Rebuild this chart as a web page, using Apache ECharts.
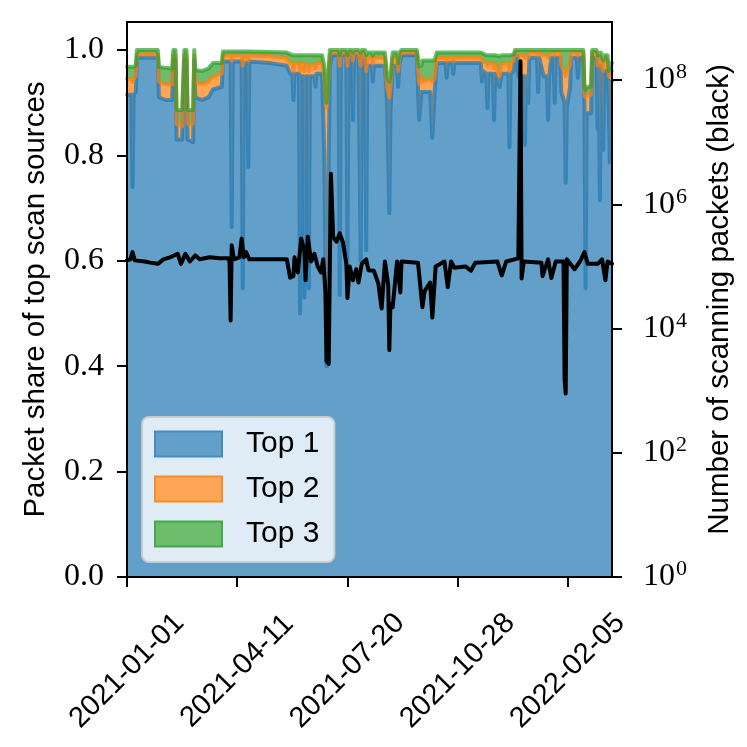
<!DOCTYPE html>
<html>
<head>
<meta charset="utf-8">
<script src="https://cdn.jsdelivr.net/npm/echarts@6/dist/echarts.min.js"></script>
<style>html,body{margin:0;padding:0;background:#fff}#c{width:747px;height:747px}</style>
</head>
<body>
<div id="c"></div>
<script>
// Day index counted from 2021-01-01
const xTickDays = [0, 100, 200, 300, 400];
const xTickLabels = ['2021-01-01', '2021-04-11', '2021-07-20', '2021-10-28', '2022-02-05'];
const leftTicks = [0, 0.2, 0.4, 0.6, 0.8, 1.0];
const rightTickExps = [0, 2, 4, 6, 8];
const seriesNames = ['Top 1', 'Top 2', 'Top 3'];

// Packet share days and cumulative shares (top 1, top 2 combined, top 3 combined)
const shareDays = [0,4,5,6,8,9,28,29,35,41,
 42,44,45,50,52,54,55,60,61,62,
 68,74,78,86,87,94,95,96,104,105,
 106,109,110,111,130,145,148,150,151,152,
 156,157,158,160,161,162,164,165,166,170,
 171,172,177,179,181,182,184,186,192,193,
 194,199,200,201,204,205,206,210,212,213,
 216,217,218,222,223,224,234,236,238,239,
 241,245,246,247,249,263,265,267,268,275,
 277,279,281,289,290,291,295,296,297,321,
 322,323,326,327,328,332,333,334,338,340,
 346,347,348,351,352,354,355,360,361,362,
 364,365,372,373,374,378,381,382,383,385,
 387,388,389,393,394,397,398,399,402,403,
 408,409,410,414,415,416,417,421,422,426,
 427,428,429,430,432,433,436,437,438,439,
 440];
const shareTop1 = [.915,.915,.74,.915,.92,.985,.985,.91,.905,.905,
 .98,.98,.83,.83,.98,.98,.83,.825,.98,.91,
 .905,.91,.925,.93,.978,.978,.664,.978,.978,.548,
 .975,.975,.778,.978,.975,.97,.955,.955,.905,.955,
 .955,.50,.95,.95,.53,.95,.95,.548,.95,.95,
 .93,.955,.955,.80,.40,.60,.97,.99,.99,.535,
 .99,.99,.60,.99,.99,.867,.99,.99,.60,.99,
 .98,.62,.97,.97,.94,.97,.97,.90,.69,.88,
 .97,.97,.93,.97,.99,.99,.867,.92,.92,.92,
 .833,.92,.975,.975,.947,.975,.975,.955,.975,.975,
 .94,.96,.955,.89,.955,.955,.867,.955,.93,.955,
 .955,.816,.955,.96,.99,.99,.95,.95,.82,.95,
 .90,.985,.985,.92,.985,.95,.95,.867,.95,.985,
 .985,.90,.985,.985,.92,.90,.748,.89,.93,.985,
 .985,.947,.985,.985,.90,.548,.88,.88,.985,.985,
 .85,.97,.715,.97,.81,.96,.96,.90,.787,.94,
 .94];
const shareTop2 = [.945,.945,.94,.945,.95,.992,.992,.94,.935,.935,
 .99,.99,.86,.855,.99,.99,.86,.86,.99,.94,
 .935,.94,.95,.955,.99,.99,.98,.99,.99,.97,
 .99,.99,.98,.99,.988,.985,.975,.975,.96,.975,
 .975,.96,.975,.975,.96,.972,.972,.96,.972,.972,
 .965,.975,.975,.95,.89,.92,.99,.995,.995,.97,
 .995,.995,.97,.995,.995,.98,.995,.995,.97,.995,
 .99,.96,.985,.985,.975,.985,.985,.93,.91,.93,
 .985,.985,.96,.985,.995,.995,.935,.95,.94,.945,
 .94,.945,.985,.985,.98,.985,.985,.98,.985,.985,
 .98,.98,.975,.97,.975,.975,.965,.975,.95,.975,
 .975,.96,.975,.98,.995,.995,.99,.99,.985,.99,
 .985,.995,.995,.99,.995,.99,.99,.985,.99,.995,
 .995,.99,.995,.995,.97,.96,.95,.96,.97,.995,
 .995,.99,.995,.995,.915,.91,.915,.915,.995,.995,
 .97,.985,.97,.985,.96,.98,.98,.95,.95,.96,
 .96];
const shareTop3 = [.968,.968,.966,.968,.97,1,1,.968,.966,.965,
 1,1,.886,.886,1,1,.886,.886,1,.962,
 .96,.965,.975,.975,.997,.997,.995,.997,.997,.995,
 .997,.997,.995,.997,.996,.995,.992,.99,.99,.99,
 .99,.99,.99,.99,.99,.99,.99,.99,.99,.99,
 .99,.99,.99,.97,.90,.93,1,1,1,.99,
 1,1,.99,1,1,.995,1,1,.995,1,
 1,.99,.995,.995,.99,.995,.995,.95,.94,.95,
 .995,.995,.975,.995,1,1,.968,.97,.98,.98,
 .98,.98,.995,.995,.995,.995,.995,.995,.995,.995,
 .995,.993,.99,.99,.99,.99,.99,.99,.988,.99,
 .99,.99,.99,.992,1,1,1,1,1,1,
 1,1,1,1,1,1,1,1,1,1,
 1,1,1,1,1,1,1,1,1,1,
 1,1,1,1,.93,.924,.93,.93,1,1,
 .99,.995,.99,.995,.98,.99,.99,.96,.965,.975,
 .975];

// Number of scanning packets (black line)
const blackDays = [0,3,5,7,16,21,28,33,39,46,
 49,53,57,62,66,75,84,92,93,94,
 95,97,102,104,106,108,111,121,145,148,
 151,152,155,158,161,162,164,167,170,173,
 176,178,180,181,183,185,187,190,193,196,
 199,200,202,205,208,210,213,217,219,224,
 228,231,234,237,238,239,241,245,248,249,
 264,268,270,275,277,280,288,291,294,297,
 307,312,316,336,340,344,355,356,357,358,
 360,376,377,382,385,389,396,397,398,399,
 400,406,411,415,418,427,431,434,436,440];
const blackCounts = [1.25e5,1.3e5,1.7e5,1.25e5,1.2e5,1.15e5,1.1e5,1.3e5,1.4e5,1.6e5,
 1.1e5,1.6e5,1.2e5,1.5e5,1.3e5,1.4e5,1.35e5,1.35e5,1.2e5,1.35e4,
 2.2e5,1.3e5,1.4e5,2.8e5,1.4e5,1.7e5,1.3e5,1.3e5,1.3e5,6.6e4,
 7e4,1.4e5,8e4,2.8e5,1.8e5,6e4,3.0e5,1.2e5,1.6e5,1.0e5,
 8e4,1.3e5,4e4,3e3,2.7e3,3.1e6,3e5,2.5e5,3.4e5,2.4e5,
 1.1e5,3.1e4,1e5,6e4,9e4,5.5e4,1.1e5,1.3e5,8.7e4,8.5e4,
 5.3e4,2.1e4,1.2e5,5e4,4.5e3,2.5e4,2.2e4,1.2e5,3.8e4,1.2e5,
 1.15e5,2.2e4,4e4,5.5e4,1.5e4,1e5,1.2e5,4.6e4,1.2e5,9.5e4,
 1.0e5,8.5e4,1.15e5,1.2e5,7.2e4,1.2e5,1.35e5,1.3e5,2e8,6.4e4,
 1.2e5,1.15e5,7e4,1.3e5,6.5e4,1.2e5,1.2e5,1.5e3,900,1.3e5,
 1.4e5,9e4,1.2e5,1.7e5,1.1e5,1.1e5,1.3e5,6e4,1.2e5,1.1e5];

const pairs = (xs, ys) => xs.map((x, i) => [x, ys[i]]);

const fillColors = ['rgb(98,160,202)', 'rgb(255,165,86)', 'rgb(107,189,107)'];
const edgeColors = ['rgba(31,119,180,0.7)', 'rgba(255,127,14,0.7)', 'rgba(44,160,44,0.7)'];
const legendBorders = ['rgb(70,140,195)', 'rgb(250,140,40)', 'rgb(70,170,70)'];
const shares = [shareTop1, shareTop2, shareTop3];

const SERIF = '"Liberation Serif", "DejaVu Serif", serif';
const SANS = '"Liberation Sans", Arial, sans-serif';

const chart = echarts.init(document.getElementById('c'), null, {renderer: 'canvas', width: 747, height: 747});

const series = [];
// Areas: top3 first (bottom), then top2, then top1
[2, 1, 0].forEach(k => {
  series.push({
    name: seriesNames[k], type: 'line', xAxisIndex: 0, yAxisIndex: 0,
    data: pairs(shareDays, shares[k]), showSymbol: false, symbol: 'none',
    lineStyle: {width: 0, color: fillColors[k]}, itemStyle: {color: fillColors[k]},
    areaStyle: {color: fillColors[k], opacity: 1}, z: 2, silent: true, animation: false
  });
});
// Edge lines: blue, orange, green (green on top)
[0, 1, 2].forEach(k => {
  series.push({
    name: 'edge' + k, type: 'line', xAxisIndex: 0, yAxisIndex: 0,
    data: pairs(shareDays, shares[k]), showSymbol: false, symbol: 'none',
    lineStyle: {width: 4, color: edgeColors[k], join: 'round', cap: 'round'}, z: 3, silent: true, animation: false
  });
});
series.push({
  name: 'packets', type: 'line', xAxisIndex: 0, yAxisIndex: 1,
  data: pairs(blackDays, blackCounts), showSymbol: false, symbol: 'none',
  lineStyle: {width: 4, color: '#000', join: 'round', cap: 'round'}, z: 4, silent: true, animation: false
});

const axisLineStyle = {color: '#000', width: 2};

chart.setOption({
  animation: false,
  backgroundColor: '#fff',
  grid: {left: 127, top: 22, width: 485, height: 555, show: true, borderColor: '#000', borderWidth: 2,
         backgroundColor: 'transparent', z: 10, containLabel: false, outerBoundsMode: 'none'},
  legend: {
    show: true, orient: 'vertical', left: 142, top: 417,
    data: seriesNames.map((n, k) => ({name: n, itemStyle: {color: fillColors[k], borderColor: legendBorders[k], borderWidth: 2}})),
    icon: 'rect', itemWidth: 67, itemHeight: 25, itemGap: 15,
    padding: [12, 15, 13, 12],
    backgroundColor: 'rgba(255,255,255,0.8)', borderColor: 'rgba(204,204,204,0.9)', borderWidth: 2, borderRadius: 7,
    selectedMode: false,
    textStyle: {fontFamily: SANS, fontSize: 30, color: '#000', lineHeight: 25, padding: [0, 0, 0, 19]}
  },
  xAxis: {
    type: 'value', min: 0, max: 440, z: 10,
    axisLine: {show: true, onZero: false, lineStyle: axisLineStyle},
    axisTick: {show: true, length: 10, lineStyle: axisLineStyle, customValues: xTickDays},
    splitLine: {show: false},
    axisLabel: {
      customValues: xTickDays, rotate: 45, align: 'center', verticalAlign: 'middle', margin: 94,
      fontFamily: SANS, fontSize: 29, color: '#000',
      formatter: v => xTickLabels[xTickDays.indexOf(Math.round(v))] || ''
    }
  },
  yAxis: [{
    type: 'value', min: 0, max: 1.053, position: 'left', z: 10,
    name: 'Packet share of top scan sources', nameLocation: 'middle', nameRotate: 90, nameGap: 76,
    nameTextStyle: {fontFamily: SANS, fontSize: 29.5, color: '#000'},
    axisLine: {show: true, lineStyle: axisLineStyle},
    axisTick: {show: true, length: 10, lineStyle: axisLineStyle, customValues: leftTicks},
    splitLine: {show: false},
    axisLabel: {customValues: leftTicks, margin: 23, fontFamily: SERIF, fontSize: 32, color: '#000',
      formatter: v => v.toFixed(1)}
  }, {
    type: 'log', logBase: 10, min: 1, max: 8.6e8, position: 'right', z: 10,
    name: 'Number of scanning packets (black)', nameLocation: 'middle', nameRotate: 90, nameGap: 93,
    nameTextStyle: {fontFamily: SANS, fontSize: 29.5, color: '#000'},
    axisLine: {show: true, lineStyle: axisLineStyle},
    axisTick: {show: true, length: 10, lineStyle: axisLineStyle, customValues: rightTickExps.map(e => Math.pow(10, e))},
    minorTick: {show: false},
    splitLine: {show: false},
    axisLabel: {customValues: rightTickExps.map(e => Math.pow(10, e)), margin: 31, color: '#000',
      formatter: v => '{b|10}{e|' + Math.round(Math.log10(v)) + '}',
      rich: {b: {fontFamily: SERIF, fontSize: 32, color: '#000'},
             e: {fontFamily: SERIF, fontSize: 22, color: '#000', padding: [0, 0, 15, 1]}}}
  }],
  series: series
});
</script>
</body>
</html>
